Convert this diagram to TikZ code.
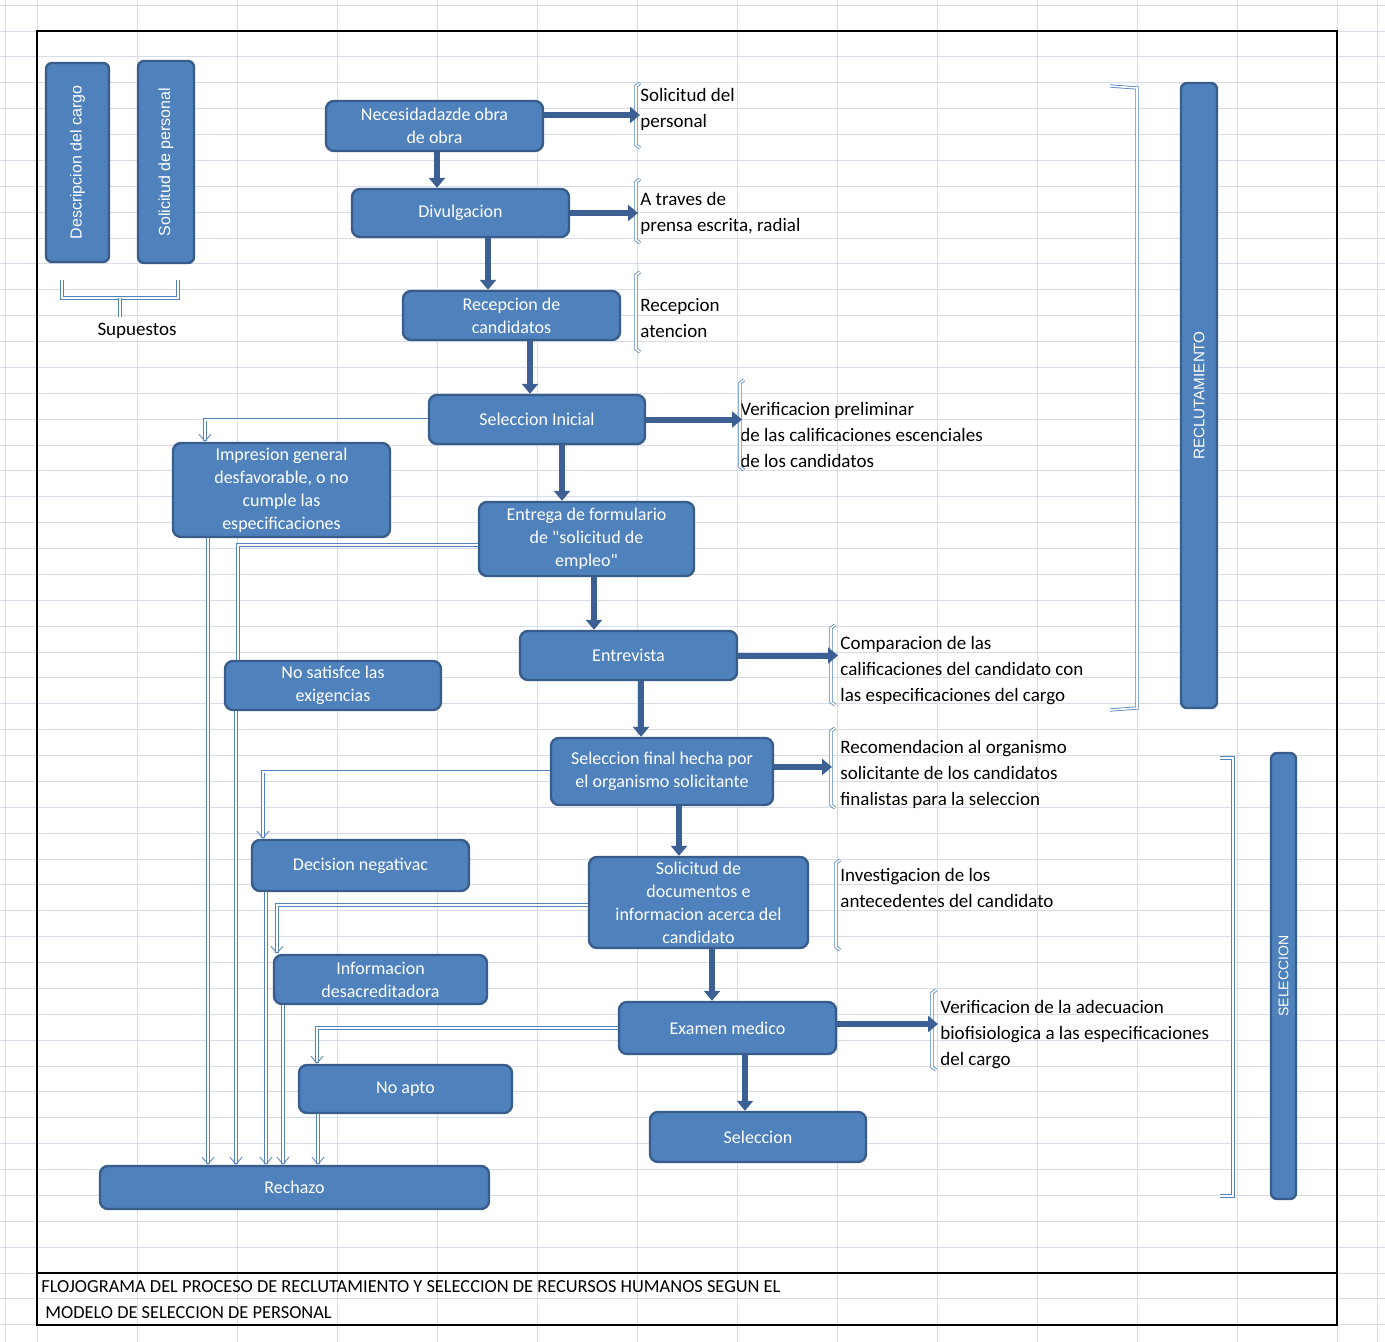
\documentclass[tikz,border=0pt]{standalone}
\usepackage{fontspec}
\setmainfont{Carlito}
\newfontfamily\arialfont{Liberation Sans}
\usetikzlibrary{arrows.meta}
\definecolor{cajaazul}{RGB}{79,129,189}
\definecolor{bordeazul}{RGB}{56,93,138}
\definecolor{flechaazul}{RGB}{60,96,148}
\definecolor{lineaazul}{RGB}{84,130,190}
\definecolor{rejilla}{RGB}{216,220,232}

\begin{document}
\begin{tikzpicture}[x=0.5pt,y=-0.5pt,
    caja/.style n args={2}{draw=bordeazul, line width=1.2pt, fill=cajaazul, rounded corners=4pt,
        text=white, align=center, inner sep=0pt, font=\fontsize{9}{11.5}\selectfont,
        minimum width=#1*0.5pt, minimum height=#2*0.5pt},
    barra/.style n args={2}{caja={#1}{#2}, rotate=90, rounded corners=3pt},
    nota/.style={anchor=base west, align=left, inner sep=0pt, font=\fontsize{9.5}{13}\selectfont},
    flecha/.style={flechaazul, line width=3pt, -{Triangle[width=8pt,length=5pt]}},
    linea/.style={lineaazul, double=white, double distance=1pt, line width=0.4pt,
        -{Straight Barb[length=3.5pt,width=6pt]}},
    corchete/.style={lineaazul, double=white, double distance=0.8pt, line width=0.4pt},
]
    % Hoja de calculo
    \useasboundingbox (0,0) rectangle (1385,1342);
    \fill[white] (0,0) rectangle (1385,1342);
    \foreach \gx in {5,37,1377} \draw[rejilla] (\gx,0) -- (\gx,1342);
    \foreach \gx in {137,237,...,1337} \draw[rejilla] (\gx,0) -- (\gx,1342);
    \foreach \k in {0,...,51} \draw[rejilla] (0,{5.1+25.875*\k}) -- (1385,{5.1+25.875*\k});
    \draw[line width=1pt] (37,31) rectangle (1337,1325);
    \draw[line width=1pt] (37,1273) -- (1337,1273);
    \node[anchor=base west, inner sep=0pt, font=\fontsize{9.2}{11}\selectfont] (titulo1) at (41,1292)
        {FLOJOGRAMA DEL PROCESO DE RECLUTAMIENTO Y SELECCION DE RECURSOS HUMANOS SEGUN EL};
    \node[anchor=base west, inner sep=0pt, font=\fontsize{9.2}{11}\selectfont] (titulo2) at (45,1318)
        {MODELO DE SELECCION DE PERSONAL};

    % Supuestos
    \node[barra={199}{63}, font=\arialfont\fontsize{8}{10}\selectfont] (desc) at (77.5,162.5) {Descripcion del cargo};
    \node[barra={202}{56}, font=\arialfont\fontsize{8}{10}\selectfont] (solpers) at (166,162) {Solicitud de personal};
    \draw[corchete] (62,280) -- (62,298) -- (178,298) -- (178,280);
    \draw[corchete] (120,298) -- (120,317);
    \node[font=\fontsize{9.5}{13}\selectfont, inner sep=0pt] (supuestos) at (137,331) {Supuestos};

    % Proceso principal
    \node[caja={217}{50}] (necesidad) at (434.5,126) {Necesidadazde obra\\de obra};
    \node[caja={217}{48}] (divulg) at (460.5,213) {Divulgacion};
    \node[caja={217}{49}] (recep) at (511.5,315.5) {Recepcion de\\candidatos};
    \node[caja={216}{49}] (selini) at (537,419.5) {Seleccion Inicial};
    \node[caja={215}{74}] (entrega) at (586.5,539) {Entrega de  formulario\\de \textquotedbl solicitud de\\empleo\textquotedbl};
    \node[caja={217}{49}] (entrevista) at (628.5,655.5) {Entrevista};
    \node[caja={222}{67}] (selfinal) at (662,771.5) {Seleccion final hecha por\\el organismo solicitante};
    \node[caja={219}{91}] (soldocs) at (698.5,902.5) {Solicitud de\\documentos e\\informacion acerca del\\candidato};
    \node[caja={217}{52}] (examen) at (727.5,1028) {Examen medico};
    \node[caja={216}{50}] (seleccion) at (758,1137) {Seleccion};

    % Rechazos
    \node[caja={217}{94}] (impresion) at (281.5,490) {Impresion general\\desfavorable, o no\\cumple las\\especificaciones};
    \node[caja={216}{49}] (nosatisf) at (333,685.5) {No  satisfce las\\exigencias};
    \node[caja={217}{51}] (decision) at (360.5,865.5) {Decision negativac};
    \node[caja={213}{49}] (info) at (380.5,979.5) {Informacion\\desacreditadora};
    \node[caja={213}{48}] (noapto) at (405.5,1089) {No apto};
    \node[caja={389}{43}] (rechazo) at (294.5,1187.5) {Rechazo};

    % Etapas
    \node[barra={625}{36}, font=\arialfont\fontsize{7.6}{9}\selectfont] (reclut) at (1199,395.5) {RECLUTAMIENTO};
    \node[barra={446}{25}, font=\arialfont\fontsize{7}{9}\selectfont] (selecc) at (1283.5,976) {SELECCION};
    \draw[corchete] (1110,86) -- (1137,88) -- (1137,708) -- (1110,710);
    \draw[corchete] (1220,758) -- (1233,758) -- (1233,1196) -- (1220,1196);

    % Notas (base = ultima linea)
    \node[nota] (nNec) at (640,128) {Solicitud del\\personal};
    \node[nota] (nDiv) at (640,232) {A traves de\\prensa escrita, radial};
    \node[nota] (nRec) at (640,337) {Recepcion\\atencion};
    \node[nota] (nSel) at (740,467) {Verificacion preliminar\\de las calificaciones escenciales\\de los candidatos};
    \node[nota] (nEntr) at (840,701) {Comparacion de las\\calificaciones del candidato con\\las especificaciones del cargo};
    \node[nota] (nFin) at (840,805) {Recomendacion al organismo\\solicitante de los candidatos\\finalistas para la seleccion};
    \node[nota] (nDoc) at (840,907) {Investigacion de los\\antecedentes del candidato};
    \node[nota] (nExa) at (940,1065) {Verificacion de la adecuacion\\biofisiologica a las especificaciones\\del cargo};
    \draw[corchete] (640,83) -- (636,86) -- (636,145) -- (640,148);
    \draw[corchete] (640,179) -- (636,182) -- (636,240) -- (640,243);
    \draw[corchete] (640,272) -- (636,275) -- (636,349) -- (640,352);
    \draw[corchete] (744,380) -- (740,383) -- (740,467) -- (744,470);
    \draw[corchete] (835,625) -- (831,628) -- (831,702) -- (835,705);
    \draw[corchete] (835,728) -- (831,731) -- (831,805) -- (835,808);
    \draw[corchete] (840,860) -- (836,863) -- (836,947) -- (840,950);
    \draw[corchete] (936,990) -- (932,993) -- (932,1067) -- (936,1070);
    \coordinate (cNec) at (640,115);
    \coordinate (cDiv) at (638,213);
    \coordinate (cSel) at (742,419.5);
    \coordinate (cEntr) at (838,655.5);
    \coordinate (cFin) at (832,767);
    \coordinate (cExa) at (938,1024);

    % Flechas gruesas
    \draw[flecha] ([xshift=1.25pt]necesidad.south) -- ([xshift=-11.75pt]divulg.north);
    \draw[flecha] ([xshift=13.75pt]divulg.south) -- ([xshift=-11.75pt]recep.north);
    \draw[flecha] ([xshift=9.25pt]recep.south) -- ([xshift=-3.5pt]selini.north);
    \draw[flecha] ([xshift=12.5pt]selini.south) -- ([xshift=-12.25pt]entrega.north);
    \draw[flecha] ([xshift=3.75pt]entrega.south) -- ([xshift=-17.25pt]entrevista.north);
    \draw[flecha] ([xshift=6.25pt]entrevista.south) -- ([xshift=-10.5pt]selfinal.north);
    \draw[flecha] ([xshift=8.5pt]selfinal.south) -- ([xshift=-9.75pt]soldocs.north);
    \draw[flecha] ([xshift=6.75pt]soldocs.south) -- ([xshift=-7.75pt]examen.north);
    \draw[flecha] ([xshift=8.75pt]examen.south) -- ([xshift=-6.5pt]seleccion.north);
    \draw[flecha] ([yshift=5.5pt]necesidad.east) -- (cNec);
    \draw[flecha] (divulg.east) -- (cDiv);
    \draw[flecha] (selini.east) -- (cSel);
    \draw[flecha] (entrevista.east) -- (cEntr);
    \draw[flecha] ([yshift=2.25pt]selfinal.east) -- (cFin);
    \draw[flecha] ([yshift=2pt]examen.east) -- (cExa);

    % Flechas de rechazo
    \draw[linea] (selini.west) -| ([xshift=-38.25pt]impresion.north);
    \draw[linea, -] ([yshift=-3pt]entrega.west) -| ([xshift=-47.5pt]nosatisf.north);
    \draw[linea] (selfinal.west) -| ([xshift=-48.75pt]decision.north);
    \draw[linea] ([yshift=-1.25pt]soldocs.west) -| ([xshift=-51.75pt]info.north);
    \draw[linea] (examen.west) -| ([xshift=-44.25pt]noapto.north);
    \draw[linea] ([xshift=-36.75pt]impresion.south) -- ([xshift=-36.75pt]impresion.south |- rechazo.north);
    \draw[linea] ([xshift=-48.5pt]nosatisf.south) -- ([xshift=-48.5pt]nosatisf.south |- rechazo.north);
    \draw[linea] ([xshift=-47.25pt]decision.south) -- ([xshift=-47.25pt]decision.south |- rechazo.north);
    \draw[linea] ([xshift=-48.75pt]info.south) -- ([xshift=-48.75pt]info.south |- rechazo.north);
    \draw[linea] ([xshift=-43.75pt]noapto.south) -- ([xshift=-43.75pt]noapto.south |- rechazo.north);
\end{tikzpicture}
\end{document}
